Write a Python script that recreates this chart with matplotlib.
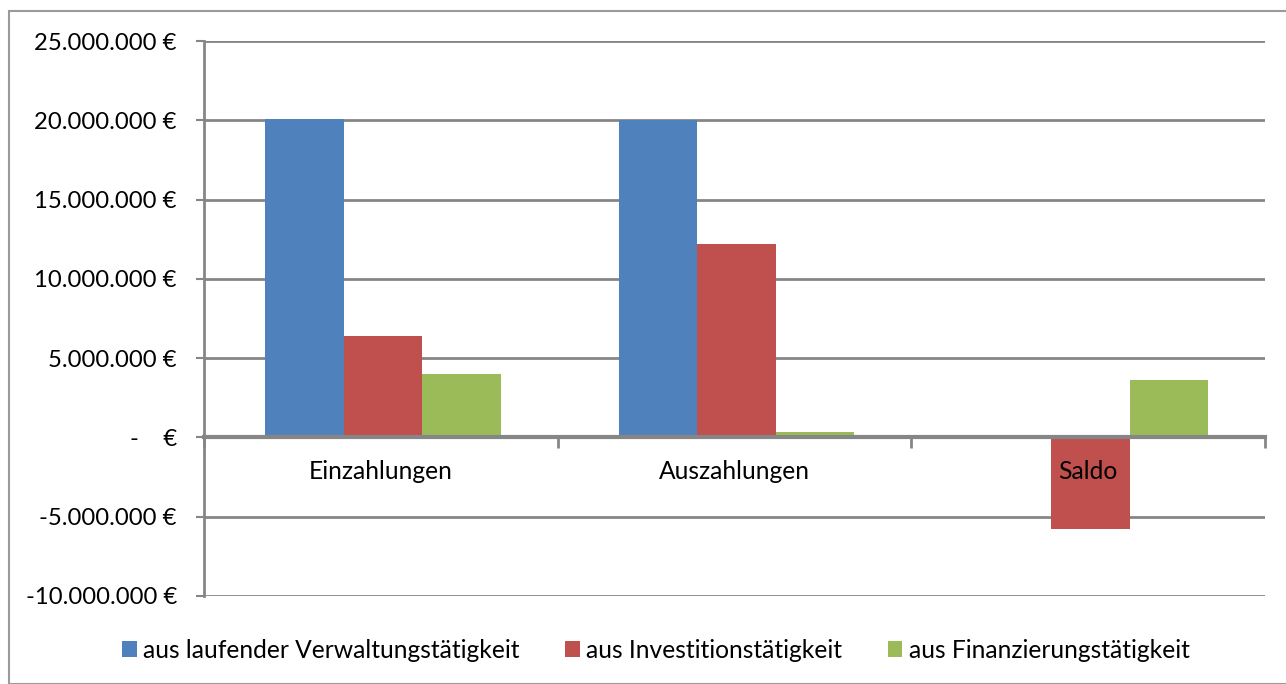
import matplotlib
matplotlib.use("Agg")
import matplotlib.pyplot as plt
import numpy as np
from matplotlib.patches import Rectangle
from matplotlib.ticker import FuncFormatter, FixedLocator

categories = ["Einzahlungen", "Auszahlungen", "Saldo"]
series_names = ["aus laufender Verwaltungstätigkeit", "aus Investitionstätigkeit", "aus Finanzierungstätigkeit"]
verwaltung = [20050000, 20000000, 50000]
investition = [6400000, 12200000, -5800000]
finanzierung = [3970000, 350000, 3620000]
colors = ["#4F81BD", "#C0504D", "#9BBB59"]
y_ticks = [-10000000, -5000000, 0, 5000000, 10000000, 15000000, 20000000, 25000000]

plt.rcParams['font.family'] = ['Lato', 'DejaVu Sans']
W, H = 1286, 684
fig = plt.figure(figsize=(W/100, H/100), dpi=100)
ax = fig.add_axes([204/W, 1-596/H, (1265-204)/W, (596-41)/H])

grid_c = "#868686"
x = np.arange(len(categories))
bw = 0.222
for i, (vals, c, name) in enumerate(zip([verwaltung, investition, finanzierung], colors, series_names)):
    ax.bar(x + (i-1)*bw + 0.006, vals, width=bw, color=c, label=name, zorder=3, linewidth=0)

ax.set_xlim(-0.5, 2.5)
ax.set_ylim(-10000000, 25000000)
ax.yaxis.set_major_locator(FixedLocator(y_ticks))

def fmt(v, pos):
    if v == 0:
        return "-    €"
    s = f"{abs(int(v)):,}".replace(",", ".")
    return ("-" if v < 0 else "") + s + " €"
ax.yaxis.set_major_formatter(FuncFormatter(fmt))
ax.grid(axis='y', color=grid_c, linewidth=2, zorder=1)
ax.tick_params(axis='y', length=6, width=1.5, color=grid_c, pad=13.5, labelsize=17.2)

for s in ['top', 'right']:
    ax.spines[s].set_visible(False)
ax.spines['left'].set_color(grid_c)
ax.spines['left'].set_linewidth(2)
ax.spines['bottom'].set_position(('data', 0))
ax.spines['bottom'].set_color(grid_c)
ax.spines['bottom'].set_linewidth(3)
ax.spines['bottom'].set_zorder(4)

ax.set_xticks([-0.5, 0.5, 1.5, 2.5])
ax.set_xticklabels([])
ax.set_xticks(x, minor=True)
ax.set_xticklabels(categories, minor=True)
ax.tick_params(axis='x', which='major', length=8, width=2, color=grid_c)
ax.tick_params(axis='x', which='minor', length=0, pad=16, labelsize=17.7)
ax.xaxis.set_zorder(5)

leg = fig.legend(loc='center', bbox_to_anchor=(656/W, 1-650/H), ncol=3, frameon=False,
                 fontsize=17.7, handlelength=0.6, handleheight=0.6, handletextpad=0.25,
                 columnspacing=1.85, borderaxespad=0, borderpad=0)

fig.patches.append(Rectangle((9/W, 0), 2, 1-11/H, transform=fig.transFigure,
                             fill=False, edgecolor="#9a9a9a", linewidth=1.5))

fig.savefig("out.png", dpi=100)
